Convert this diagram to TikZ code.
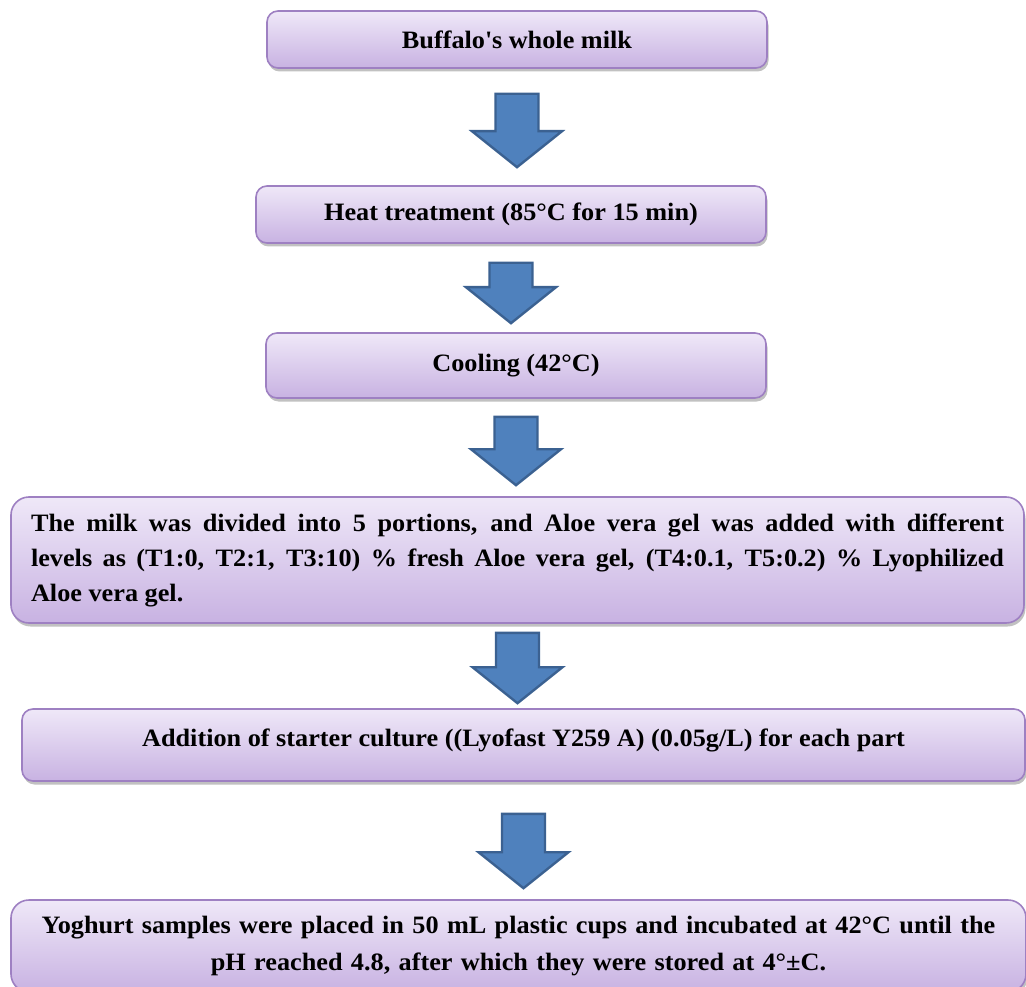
\documentclass[tikz,border=0pt]{standalone}
\usepackage{fontspec}
\setmainfont{Liberation Serif}[FakeStretch=1.05]
\usepackage{tikz}
\usetikzlibrary{calc,shadows}

\definecolor{lavtop}{HTML}{EFE8F8}
\definecolor{lavbot}{HTML}{C8B2E2}
\definecolor{lavline}{HTML}{9E80C2}
\definecolor{arrowblue}{HTML}{4F81BD}
\definecolor{arrowline}{HTML}{3B6191}

\tikzset{
  stepbox/.style={draw=lavline,line width=1.6pt,rounded corners=11pt,
    top color=lavtop,bottom color=lavbot,
    drop shadow={shadow xshift=1.5pt,shadow yshift=-3.5pt,opacity=.35,fill=black!70},
    font=\fontsize{25}{35}\selectfont\bfseries,inner sep=0pt},
  flowarrow/.style={draw=arrowline,fill=arrowblue,line width=2.4pt,line join=miter,
    to path={let \p1=(\tikztostart), \p2=(\tikztotarget) in
      (\x1-21.5pt,\y1) -- (\x1+21.5pt,\y1) -- (\x1+21.5pt,\y2+36pt) -- (\x1+45pt,\y2+36pt)
      -- (\x1,\y2) -- (\x1-45pt,\y2+36pt) -- (\x1-21.5pt,\y2+36pt) -- cycle}}
}

\begin{document}
\begin{tikzpicture}
  [x=1pt,y=1pt]
  \useasboundingbox (0,0) rectangle (1026,-987);
  \node[stepbox,minimum width=500,minimum height=57] (milk) at (517,-39.5) {Buffalo\textquotesingle s whole milk};
  \node[stepbox,minimum width=510,minimum height=57] (heat) at (511,-214.5) {Heat treatment (85°C for 15 min)};
  \node[stepbox,minimum width=500,minimum height=65] (cool) at (516,-365.5) {Cooling (42°C)};
  \node[stepbox,minimum width=1013,minimum height=126,rounded corners=18pt,
        text width=973,align=justify] (aloe) at (517.5,-560)
    {The milk was divided into 5 portions, and Aloe vera gel was added with different\linebreak
     levels as (T1:0, T2:1, T3:10) \% fresh Aloe vera gel, (T4:0.1, T5:0.2) \% Lyophilized\linebreak
     Aloe vera gel.};
  \node[stepbox,minimum width=1003,minimum height=72,text depth=14pt] (starter) at (523.5,-745)
    {Addition of starter culture ((Lyofast Y259 A) (0.05g/L) for each part};
  \node[stepbox,minimum width=1015,minimum height=92,rounded corners=18pt,
        text width=990,align=center,font=\fontsize{25}{37}\selectfont\bfseries] (cups) at (518.5,-946)
    {Yoghurt samples were placed in 50 mL plastic cups and incubated at 42°C until the\\
     pH reached 4.8, after which they were stored at 4°±C.};
  \foreach \from/\to/\ga/\gb in {milk/heat/25/18,heat/cool/19/9,cool/aloe/18/11,aloe/starter/9/5,starter/cups/32/11}
    \draw[flowarrow] ($(\from.south)+(0,-\ga)$) to ($(\to.north)+(0,\gb)$);
\end{tikzpicture}
\end{document}
